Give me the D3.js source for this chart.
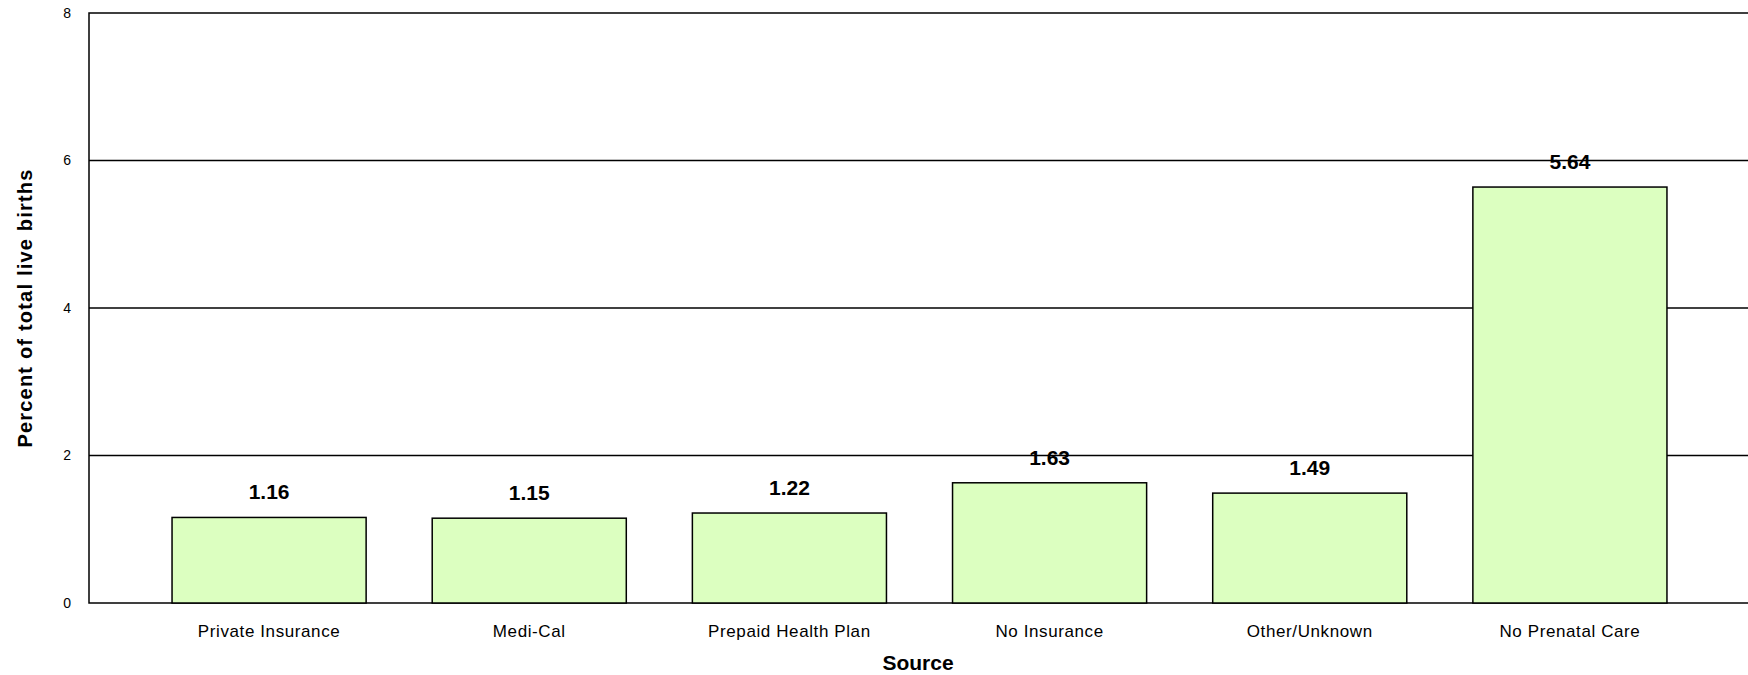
<!DOCTYPE html><html><head><meta charset="utf-8">
<script src="https://cdn.jsdelivr.net/npm/d3@7"></script>
<style>body{margin:0;background:#fff}text{font-family:"Liberation Sans",Arial,sans-serif}</style></head><body>
<svg id="c" width="1748" height="675"></svg>
<script>
const categories=["Private Insurance","Medi-Cal","Prepaid Health Plan","No Insurance","Other/Unknown","No Prenatal Care"];
const values=[1.16,1.15,1.22,1.63,1.49,5.64];
const yTicks=[0,2,4,6,8];
const svg=d3.select("#c");
const L=89,R=1748,T=13,B=603;
const x=d3.scaleBand().domain(categories).range([139,1700]).paddingInner(0.254).paddingOuter(0.127);
const y=d3.scaleLinear().domain([0,8]).range([B,T]);
svg.append("rect").attr("x",L).attr("y",T).attr("width",R-L+2).attr("height",B-T).attr("fill","none").attr("stroke","#000").attr("stroke-width",1.5);
svg.selectAll(".g").data(yTicks.slice(1,-1)).join("line").attr("x1",L).attr("x2",R).attr("y1",d=>y(d)).attr("y2",d=>y(d)).attr("stroke","#000").attr("stroke-width",1.5);
const ya=svg.append("g").attr("transform",`translate(${L},0)`).call(d3.axisLeft(y).tickValues(yTicks).tickSize(0).tickPadding(18));
ya.select(".domain").remove();ya.selectAll("text").attr("font-size",14);
svg.selectAll(".b").data(values).join("rect").attr("x",(d,i)=>x(categories[i])).attr("width",x.bandwidth()).attr("y",d=>y(d)).attr("height",d=>B-y(d)).attr("fill","#dcffc0").attr("stroke","#000").attr("stroke-width",1.5);
svg.selectAll(".v").data(values).join("text").attr("x",(d,i)=>x(categories[i])+x.bandwidth()/2).attr("y",d=>y(d)-18).attr("text-anchor","middle").attr("font-size",21).attr("font-weight","bold").text(d=>d.toFixed(2));
const xa=svg.append("g").attr("transform",`translate(0,${B})`).call(d3.axisBottom(x).tickSize(0).tickPadding(22));
xa.select(".domain").remove();xa.selectAll("text").attr("font-size",17).attr("letter-spacing",0.6);
svg.append("text").attr("x",918).attr("y",670).attr("text-anchor","middle").attr("font-size",21).attr("font-weight","bold").text("Source");
svg.append("text").attr("transform","translate(32,308) rotate(-90)").attr("text-anchor","middle").attr("font-size",20).attr("letter-spacing",1.2).attr("font-weight","bold").text("Percent of total live births");
</script></body></html>
